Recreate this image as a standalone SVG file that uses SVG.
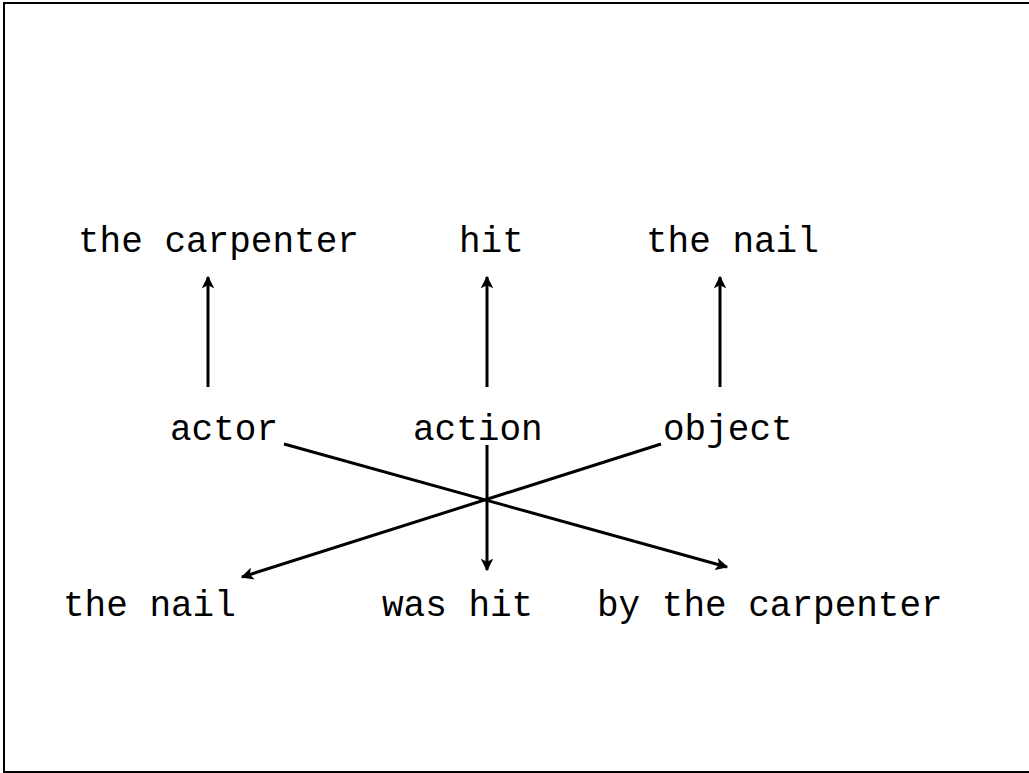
<svg xmlns="http://www.w3.org/2000/svg" width="1029" height="773" viewBox="0 0 1029 773">
<style>
text{font-family:"Liberation Mono","Courier New",monospace;font-size:36px;fill:#000}
.c{stroke:#000;stroke-width:3;fill:none;marker-end:url(#ah)}
</style>
<defs>
<marker id="ah" viewBox="0 0 10 10" refX="9" refY="5" markerWidth="4.2" markerHeight="4.2" orient="auto" markerUnits="strokeWidth">
<path d="M0,0 L10,5 L0,10 L2.5,5 z" fill="#000"/>
</marker>
</defs>
<rect x="4" y="3" width="1030" height="769" fill="#fff" stroke="#000" stroke-width="2"/>
<g id="n-top-carpenter"><text x="78" y="252">the carpenter</text></g>
<g id="n-top-hit"><text x="459" y="252">hit</text></g>
<g id="n-top-nail"><text x="646" y="252">the nail</text></g>
<g id="n-actor"><text x="170" y="440">actor</text></g>
<g id="n-action"><text x="413" y="440">action</text></g>
<g id="n-object"><text x="663" y="440">object</text></g>
<g id="n-bot-nail"><text x="63" y="616">the nail</text></g>
<g id="n-was-hit"><text x="382" y="616">was hit</text></g>
<g id="n-by-carpenter"><text x="597" y="616">by the carpenter</text></g>
<g id="connectors">
<line class="c" x1="208" y1="387" x2="208" y2="277"/>
<line class="c" x1="487" y1="387" x2="487" y2="277"/>
<line class="c" x1="720" y1="387" x2="720" y2="277"/>
<line class="c" x1="284" y1="444" x2="727" y2="567"/>
<line class="c" x1="661" y1="444" x2="242" y2="577"/>
<line class="c" x1="487" y1="445" x2="487" y2="570"/>
</g>
</svg>
